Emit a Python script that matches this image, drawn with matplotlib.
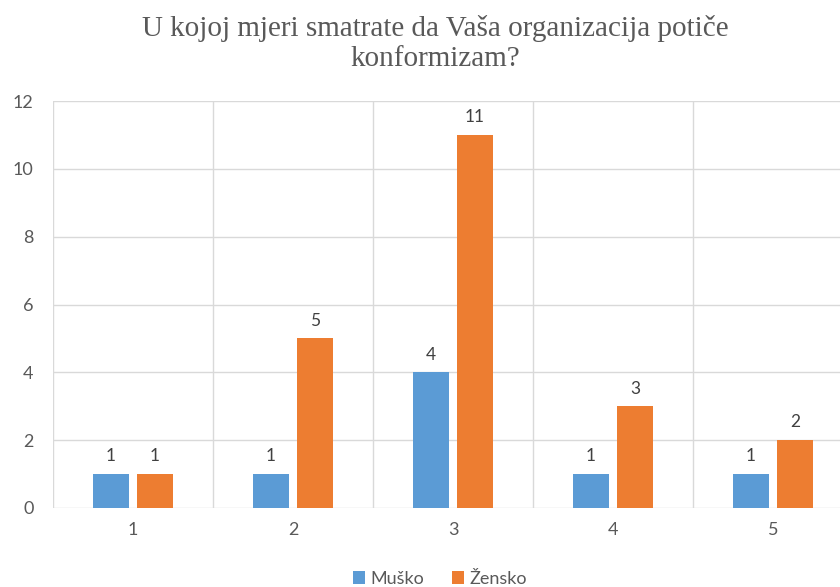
import matplotlib
matplotlib.use("Agg")
import matplotlib.pyplot as plt
import numpy as np

categories = ["1", "2", "3", "4", "5"]
musko = [1, 1, 4, 1, 1]
zensko = [1, 5, 11, 3, 2]
series_names = ["Muško", "Žensko"]
title = "U kojoj mjeri smatrate da Vaša organizacija potiče\nkonformizam?"

fig = plt.figure(figsize=(8.4, 5.87), dpi=100)
ax = fig.add_axes([53/840, (587-508)/587, 800/840, (508-101)/587])

x = np.arange(1, len(categories) + 1)
w = 0.225
off = 0.1375
b1 = ax.bar(x - off, musko, w, color="#5B9BD5", label=series_names[0], zorder=3)
b2 = ax.bar(x + off, zensko, w, color="#ED7D31", label=series_names[1], zorder=3)

lab_font = dict(family=["Lato", "DejaVu Sans"], size=12.5, color="#404040")
for bars in (b1, b2):
    for r in bars:
        ax.annotate(f"{int(r.get_height())}", (r.get_x() + r.get_width()/2, r.get_height()),
                    xytext=(0, 7), textcoords="offset points", ha="center", va="bottom", **lab_font)

ax.set_xlim(0.5, len(categories) + 0.5)
ax.set_ylim(0, 12)
ax.set_yticks(range(0, 13, 2))
ax.set_xticks(x)
ax.set_xticklabels(categories)
ax.set_xticks(np.arange(0.5, len(categories) + 1), minor=True)
ax.grid(axis="y", which="major", color="#D9D9D9", lw=1, zorder=0)
ax.grid(axis="x", which="minor", color="#D9D9D9", lw=1, zorder=0)
ax.grid(axis="x", which="major", visible=False)
for s in ax.spines.values():
    s.set_visible(False)
ax.tick_params(which="both", length=0)
ax.tick_params(axis="y", pad=14, labelcolor="#595959", labelsize=13)
ax.tick_params(axis="x", pad=10, labelcolor="#595959", labelsize=13)
for t in ax.get_xticklabels() + ax.get_yticklabels():
    t.set_fontfamily(["Lato", "DejaVu Sans"])

fig.text(0.518, 1 - 44/587, title, ha="center", va="center", family=["Liberation Serif"], size=21, color="#595959", linespacing=1.2)

leg = fig.legend(loc="center", bbox_to_anchor=(440/840, 1 - 579/587), ncol=2, frameon=False,
                 handlelength=0.7, handleheight=0.7, handletextpad=0.3, columnspacing=1.5,
                 prop=dict(family=["Lato", "DejaVu Sans"], size=13))
for t in leg.get_texts():
    t.set_color("#595959")

fig.savefig("out.png", dpi=100)
